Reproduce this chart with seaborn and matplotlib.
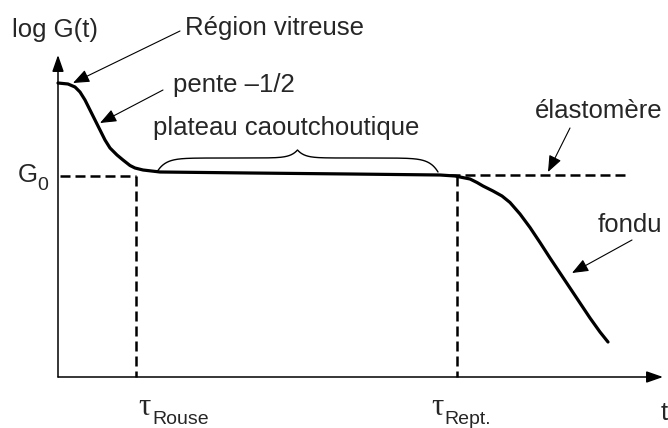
import numpy as np
import matplotlib
matplotlib.use("Agg")
import matplotlib.pyplot as plt
import seaborn as sns

# Courbe maîtresse log G(t) (unités arbitraires)
curve_t = [0.0, 1.0, 1.7, 2.2, 2.7, 3.2, 3.7, 4.2, 4.7, 5.2,
           5.9, 6.5, 7.2, 7.7, 8.5, 10.2, 19.2, 29.2, 38.2, 39.7,
           40.2, 41.2, 41.9, 42.5, 43.5, 44.4, 45.2, 46.2, 47.2, 48.2,
           49.2, 50.2, 51.2, 52.2, 53.2, 54.2, 55.0]
curve_logG = [29.4, 29.3, 29.0, 28.5, 27.7, 26.7, 25.7, 24.7, 23.7, 22.9,
              22.2, 21.7, 21.15, 20.9, 20.7, 20.5, 20.4, 20.3, 20.2, 20.1,
              20.0, 19.8, 19.45, 19.1, 18.6, 18.1, 17.45, 16.3, 14.95, 13.45,
              11.9, 10.4, 8.9, 7.4, 5.9, 4.5, 3.5]

G0 = 20.1
tau_rouse = 7.8
tau_rept = 39.9
elastomere_t = [39.2, 57.0]
plateau_t = [9.9, 38.0]

# Style
sns.set_theme(style="white")
plt.rcParams["font.family"] = ["Liberation Sans", "DejaVu Sans"]
FS = 18.5


def brace(ax, x0, x1, y0, h_end, h_mid, lw=1.0):
    # accolade horizontale ouverte vers le bas
    u = np.linspace(0, 0.5, 200)
    y = y0 + h_end * (1 - np.exp(-u / 0.03)) + h_mid * np.exp(-(0.5 - u) / 0.025)
    xs = np.concatenate([u, 1 - u[::-1]]) * (x1 - x0) + x0
    ys = np.concatenate([y, y[::-1]])
    ax.plot(xs, ys, color="black", lw=lw)


def arrow(ax, tip, tail, lw=0.8):
    ax.annotate("", xy=tip, xytext=tail,
                arrowprops=dict(arrowstyle="-|>,head_length=1.0,head_width=0.4",
                                mutation_scale=10, lw=lw, color="black",
                                shrinkA=0, shrinkB=0))


fig = plt.figure(figsize=(6.68, 4.28), dpi=100)
ax = fig.add_axes([0, 0, 1, 1])
ax.set_xlim(-5.8, 61.0)
ax.set_ylim(-5.1, 37.7)
ax.axis("off")

# axes avec flèches
axis_arrow = dict(arrowstyle="-|>,head_length=1.0,head_width=0.35",
                  mutation_scale=10, lw=1.1, color="black",
                  shrinkA=0, shrinkB=0)
ax.annotate("", xy=(60.5, 0), xytext=(0, 0), arrowprops=axis_arrow)
ax.annotate("", xy=(0, 32.2), xytext=(0, 0), arrowprops=axis_arrow)

# courbe
line = sns.lineplot(x=curve_t, y=curve_logG, ax=ax, color="black", lw=2.3,
                    estimator=None, sort=False)
for l in ax.lines:
    l.set_solid_joinstyle("round")
    l.set_solid_capstyle("round")

# lignes pointillées
dash = dict(color="black", lw=1.8, dashes=(4, 2))
ax.plot([0.2, tau_rouse], [G0, G0], **dash)
ax.plot([tau_rouse, tau_rouse], [G0, 0], **dash)
ax.plot([tau_rept, tau_rept], [G0, 0], **dash)
ax.plot(elastomere_t, [G0 + 0.1, G0 + 0.1], **dash)

# accolade du plateau
brace(ax, plateau_t[0], plateau_t[1], 20.5, 1.4, 0.8)

# textes
ax.text(-4.6, 34.0, "log G(t)", fontsize=FS, va="baseline")
ax.text(12.7, 34.2, "Région vitreuse", fontsize=FS, va="baseline")
ax.text(11.5, 28.5, "pente \u20131/2", fontsize=FS, va="baseline")
ax.text(9.5, 24.2, "plateau caoutchoutique", fontsize=FS, va="baseline")
ax.text(47.7, 25.9, "élastomère", fontsize=FS, va="baseline")
ax.text(54.0, 14.5, "fondu", fontsize=FS, va="baseline")
ax.text(-4.0, 19.5, "G", fontsize=FS, va="baseline")
ax.text(-2.1, 18.7, "0", fontsize=14, va="baseline")
ax.text(60.3, -4.3, "t", fontsize=FS, va="baseline")

# temps caractéristiques
serif = ["Liberation Serif", "DejaVu Serif"]
ax.text(tau_rouse + 0.2, -3.8, "τ", fontsize=22, va="baseline", family=serif)
ax.text(tau_rouse + 1.6, -4.75, "Rouse", fontsize=14, va="baseline")
ax.text(tau_rept - 2.6, -3.8, "τ", fontsize=22, va="baseline", family=serif)
ax.text(tau_rept - 1.3, -4.75, "Rept.", fontsize=14, va="baseline")

# flèches d'annotation
arrow(ax, (1.5, 29.4), (12.2, 34.6))
arrow(ax, (4.2, 25.4), (10.5, 28.7))
arrow(ax, (49.0, 20.5), (51.2, 24.9))
arrow(ax, (51.4, 10.4), (57.4, 13.7))

fig.savefig("out.png", dpi=100)
